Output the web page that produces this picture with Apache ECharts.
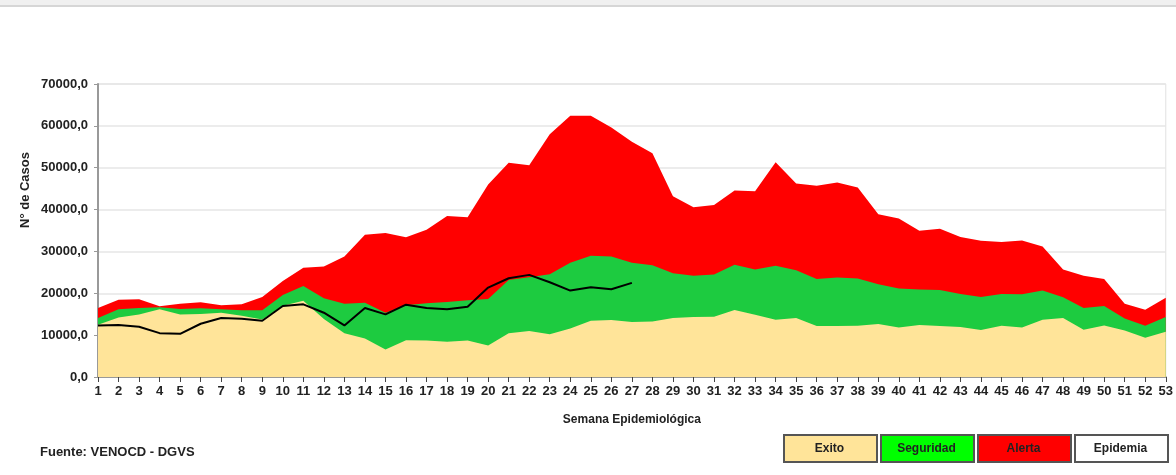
<!DOCTYPE html>
<html>
<head>
<meta charset="utf-8">
<script src="https://cdn.jsdelivr.net/npm/echarts@6/dist/echarts.min.js"></script>
<style>
  html, body { margin: 0; padding: 0; background: #fff; }
  #chart-container { width: 1176px; height: 475px; }
</style>
</head>
<body>
<div id="chart-container"></div>
<script>
var semanas = [];
for (var i = 1; i <= 53; i++) semanas.push(String(i));

// limite superior de la zona de alerta (percentil 75)
var alerta = [16480, 18480, 18560, 16880, 17520, 17840, 17120, 17360, 19120, 22960,
  26080, 26400, 28800, 34000, 34400, 33360, 35200, 38480, 38160, 46000,
  51200, 50560, 58000, 62400, 62400, 59600, 56200, 53440, 43200, 40560,
  41120, 44560, 44400, 51280, 46240, 45680, 46480, 45280, 38880, 37880,
  34960, 35440, 33440, 32560, 32240, 32640, 31200, 25680, 24160, 23440,
  17520, 16080, 18960];

// limite superior de la zona de seguridad (mediana)
var seguridad = [14080, 16160, 16480, 16640, 16240, 16400, 16160, 15920, 15920, 19600,
  21760, 18800, 17520, 17760, 15360, 17120, 17600, 17920, 18320, 18640,
  23200, 23840, 24560, 27280, 28960, 28800, 27320, 26720, 24800, 24160,
  24480, 26800, 25680, 26560, 25520, 23440, 23760, 23520, 22160, 21160,
  20880, 20800, 19840, 19120, 19840, 19760, 20640, 19040, 16480, 16960,
  14000, 12240, 14320];

// limite superior de la zona de exito (percentil 25)
var exito = [12500, 14240, 14960, 16160, 14960, 15040, 15360, 14640, 13760, 17040,
  18240, 13840, 10480, 9200, 6560, 8800, 8720, 8400, 8720, 7520,
  10480, 10960, 10240, 11600, 13440, 13600, 13160, 13280, 14080, 14320,
  14400, 16000, 14880, 13680, 14080, 12160, 12160, 12240, 12640, 11840,
  12400, 12160, 11920, 11200, 12240, 11840, 13680, 14080, 11280, 12320,
  11120, 9360, 10800];

// casos del año en curso (semanas 1 a 27)
var casos = [12320, 12400, 12000, 10480, 10320, 12720, 14080, 13920, 13440, 16960,
  17360, 15360, 12320, 16480, 14960, 17280, 16480, 16160, 16800, 21360,
  23600, 24400, 22640, 20640, 21440, 20960, 22480];

var leyenda = ['Exito', 'Seguridad', 'Alerta', 'Epidemia'];
var coloresLeyenda = ['#FFE499', '#00FF00', '#FF0000', '#FFFFFF'];

var dom = document.getElementById('chart-container');
var myChart = echarts.init(dom, null, { renderer: 'canvas' });

var fuente = 'Liberation Sans, Arial, sans-serif';

var cajas = [];
leyenda.forEach(function (nombre, k) {
  var x0 = 783 + k * 97;
  cajas.push({
    type: 'rect',
    left: x0, top: 434,
    shape: { width: 93, height: 27 },
    style: { fill: coloresLeyenda[k], stroke: '#555', lineWidth: 2 }
  });
  cajas.push({
    type: 'text',
    x: x0 + 46.5, y: 449,
    style: {
      text: nombre, fill: '#222', font: 'bold 12px ' + fuente,
      textAlign: 'center', textVerticalAlign: 'middle'
    }
  });
});

function areaSerie(nombre, datos, color) {
  return {
    name: nombre,
    type: 'line',
    data: datos,
    symbol: 'none',
    lineStyle: { width: 0 },
    areaStyle: { color: color, opacity: 1 },
    silent: true
  };
}

var option = {
  animation: false,
  grid: {
    left: 98, right: 10, top: 84, bottom: 98,
    show: true, borderColor: '#e2e2e2', borderWidth: 1
  },
  graphic: [
    { type: 'rect', left: 0, top: 0, shape: { width: 1176, height: 5 }, style: { fill: '#f0f0f0' } },
    { type: 'rect', left: 0, top: 5, shape: { width: 1176, height: 2 }, style: { fill: '#d6d6d6' } },
    {
      type: 'text', left: 40, top: 446,
      style: { text: 'Fuente: VENOCD - DGVS', fill: '#222', font: 'bold 13px ' + fuente }
    },
    {
      type: 'text', x: 25, y: 190, rotation: Math.PI / 2,
      style: {
        text: 'N° de Casos', fill: '#222', font: 'bold 13px ' + fuente,
        textAlign: 'center', textVerticalAlign: 'middle'
      }
    }
  ].concat(cajas),
  xAxis: {
    type: 'category',
    data: semanas,
    boundaryGap: false,
    name: 'Semana Epidemiológica',
    nameLocation: 'middle',
    nameGap: 37,
    nameTextStyle: { fontFamily: fuente, fontWeight: 'bold', fontSize: 12, color: '#222' },
    axisLine: { lineStyle: { color: '#999', width: 2 } },
    axisTick: { show: true, alignWithLabel: true, length: 5, lineStyle: { color: '#444' } },
    axisLabel: {
      interval: 0, margin: 8,
      fontFamily: fuente, fontWeight: 'bold', fontSize: 13, color: '#222'
    },
    splitLine: { show: false }
  },
  yAxis: {
    type: 'value',
    min: 0, max: 70000, interval: 10000,
    axisLine: { show: true, lineStyle: { color: '#999', width: 2 } },
    axisTick: { show: true, length: 4, lineStyle: { color: '#999' } },
    axisLabel: {
      margin: 10,
      fontFamily: fuente, fontWeight: 'bold', fontSize: 13, color: '#222',
      formatter: function (v) { return v.toFixed(1).replace('.', ','); }
    },
    splitLine: { lineStyle: { color: '#e6e6e6', width: 1.5 } }
  },
  series: [
    areaSerie('Alerta', alerta, '#FF0000'),
    areaSerie('Seguridad', seguridad, '#1DCB40'),
    areaSerie('Exito', exito, '#FFE499'),
    {
      name: 'Casos',
      type: 'line',
      data: casos,
      symbol: 'none',
      lineStyle: { color: '#000', width: 2 },
      silent: true,
      z: 5
    }
  ]
};

if (option && typeof option === 'object') {
  myChart.setOption(option);
}

window.addEventListener('resize', myChart.resize);
</script>
</body>
</html>
